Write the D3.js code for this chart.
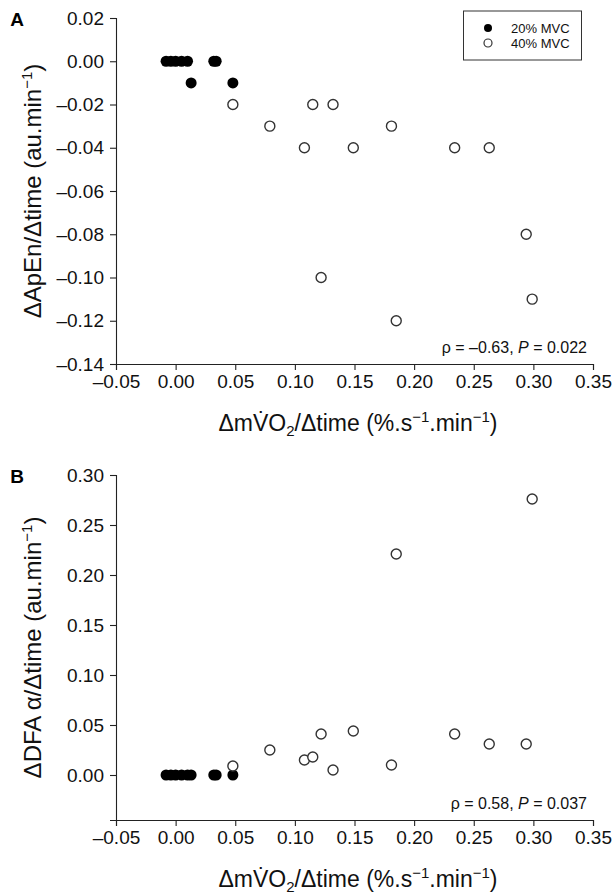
<!DOCTYPE html>
<html>
<head>
<meta charset="utf-8">
<script src="https://cdn.jsdelivr.net/npm/d3@7"></script>
<style>
  html, body { margin: 0; padding: 0; background: #fff; }
  svg { display: block; font-family: "Liberation Sans", Arial, sans-serif; }
</style>
</head>
<body>
<svg id="chart" width="613" height="896"></svg>
<script>
// ---- Data ----
const xTicks = [-0.05, 0.00, 0.05, 0.10, 0.15, 0.20, 0.25, 0.30, 0.35];
const yTicksA = [-0.14, -0.12, -0.10, -0.08, -0.06, -0.04, -0.02, 0.00, 0.02];
const yTicksB = [0.00, 0.05, 0.10, 0.15, 0.20, 0.25, 0.30];

// 20% MVC (filled)
const lowX    = [-0.008, -0.004, 0.000, 0.005, 0.010, 0.032, 0.034, 0.013, 0.048];
const lowApEn = [0, 0, 0, 0, 0, 0, 0, -0.01, -0.01];
const lowDFA  = [0, 0, 0, 0, 0, 0, 0, 0, 0];

// 40% MVC (open)
const highX    = [0.048, 0.079, 0.108, 0.115, 0.122, 0.132, 0.149, 0.181, 0.185, 0.234, 0.263, 0.294, 0.299];
const highApEn = [-0.02, -0.03, -0.04, -0.02, -0.10, -0.02, -0.04, -0.03, -0.12, -0.04, -0.04, -0.08, -0.11];
const highDFA  = [0.009, 0.025, 0.015, 0.018, 0.041, 0.005, 0.044, 0.010, 0.221, 0.041, 0.031, 0.031, 0.276];

const legendLabels = ["20% MVC", "40% MVC"];

// ---- Drawing ----
const svg = d3.select("#chart");
const fmt = v => d3.format(".2f")(v).replace("-", "\u2013").replace("\u2212", "\u2013");

const left = 116, right = 593;
const x = d3.scaleLinear().domain([-0.05, 0.35]).range([left, right]);

function panel(opts) {
  const y = d3.scaleLinear().domain(opts.yDomain).range([opts.bottom, opts.top]);
  const g = svg.append("g");

  const xAxis = g.append("g")
    .attr("transform", `translate(0,${opts.bottom})`)
    .call(d3.axisBottom(x).tickValues(xTicks).tickFormat(fmt).tickSizeOuter(0).tickSize(6).tickPadding(5));
  xAxis.selectAll("text").attr("font-size", 19).attr("fill", "#111").attr("font-family", "Liberation Sans, Arial, sans-serif");

  const yAxis = g.append("g")
    .attr("transform", `translate(${left},0)`)
    .call(d3.axisLeft(y).tickValues(opts.yTicks).tickFormat(fmt).tickSizeOuter(0).tickSize(6).tickPadding(6));
  yAxis.selectAll("text").attr("font-size", 19).attr("fill", "#111").attr("font-family", "Liberation Sans, Arial, sans-serif");

  [xAxis, yAxis].forEach(a => {
    a.select(".domain").attr("stroke", "#222").attr("stroke-width", 1.1);
    a.selectAll(".tick line").attr("stroke", "#222").attr("stroke-width", 1.1);
  });

  // low points (filled)
  g.append("g").selectAll("circle").data(lowX.map((v, i) => [v, opts.low[i]])).join("circle")
    .attr("cx", d => x(d[0])).attr("cy", d => y(d[1])).attr("r", 5.5).attr("fill", "#000");
  // high points (open)
  g.append("g").selectAll("circle").data(highX.map((v, i) => [v, opts.high[i]])).join("circle")
    .attr("cx", d => x(d[0])).attr("cy", d => y(d[1])).attr("r", 5)
    .attr("fill", "#fff").attr("stroke", "#333").attr("stroke-width", 1.4);

  // panel letter
  g.append("text").attr("x", 17).attr("y", opts.top + 8).attr("font-size", 19)
    .attr("font-weight", "bold").attr("text-anchor", "middle").text(opts.letter);

  // y-axis title
  const yt = g.append("text")
    .attr("transform", `translate(41,${(opts.top + opts.bottom) / 2}) rotate(-90)`)
    .attr("text-anchor", "middle").attr("font-size", 24).attr("fill", "#111");
  yt.append("tspan").text(opts.yTitle);
  yt.append("tspan").attr("dy", -9).attr("font-size", 15).text("\u22121");
  yt.append("tspan").attr("dy", 9).text(")");

  // x-axis title
  const xt = g.append("text").attr("x", 358).attr("y", opts.bottom + 67)
    .attr("text-anchor", "middle").attr("font-size", 23).attr("fill", "#111");
  xt.append("tspan").text("\u0394mV\u0307O");
  xt.append("tspan").attr("dy", 5).attr("font-size", 15).text("2");
  xt.append("tspan").attr("dy", -5).text("/\u0394time (%.s");
  xt.append("tspan").attr("dy", -9).attr("font-size", 15).text("\u22121");
  xt.append("tspan").attr("dy", 9).text(".min");
  xt.append("tspan").attr("dy", -9).attr("font-size", 15).text("\u22121");
  xt.append("tspan").attr("dy", 9).text(")");

  // stats annotation
  const an = g.append("text").attr("x", 587).attr("y", opts.bottom - 11)
    .attr("text-anchor", "end").attr("font-size", 16).attr("fill", "#111");
  an.append("tspan").text(`\u03C1 = ${opts.rho}, `);
  an.append("tspan").attr("font-style", "italic").text("P");
  an.append("tspan").text(` = ${opts.p}`);
  return { g, y };
}

panel({ top: 18, bottom: 364, yDomain: [-0.14, 0.02], yTicks: yTicksA,
        low: lowApEn, high: highApEn, letter: "A",
        yTitle: "\u0394ApEn/\u0394time (au.min", rho: "\u20130.63", p: "0.022" });

panel({ top: 475, bottom: 820, yDomain: [-0.045, 0.30], yTicks: yTicksB,
        low: lowDFA, high: highDFA, letter: "B",
        yTitle: "\u0394DFA \u03B1/\u0394time (au.min", rho: "0.58", p: "0.037" });

// legend (panel A)
const lg = svg.append("g");
lg.append("rect").attr("x", 463.5).attr("y", 11).attr("width", 118).attr("height", 49)
  .attr("fill", "#fff").attr("stroke", "#333").attr("stroke-width", 1);
legendLabels.forEach((lab, i) => {
  const cy = 28 + i * 15;
  lg.append("circle").attr("cx", 488).attr("cy", cy).attr("r", 4)
    .attr("fill", i === 0 ? "#000" : "#fff").attr("stroke", i === 0 ? "none" : "#333").attr("stroke-width", 1.2);
  lg.append("text").attr("x", 511).attr("y", cy + 5).attr("font-size", 13).attr("fill", "#111").text(lab);
});
</script>
</body>
</html>
